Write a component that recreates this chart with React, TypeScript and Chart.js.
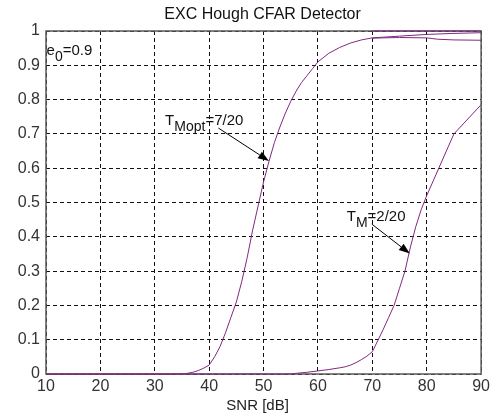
import React, { useEffect, useRef } from "react";
import { Chart, registerables } from "chart.js";

Chart.register(...registerables);

// ---- data ----
const titleText = "EXC Hough CFAR Detector";
const xLabel = "SNR [dB]";
const xTicks = [10, 20, 30, 40, 50, 60, 70, 80, 90];
const yTickLabels = ["0", "0.1", "0.2", "0.3", "0.4", "0.5", "0.6", "0.7", "0.8", "0.9", "1"];

// T_Mopt = 7/20
const snrOpt = [10, 20, 30, 35, 36, 37, 38, 39, 40, 41, 42, 43, 44, 45, 46, 47, 48, 49, 50, 51, 52, 53, 54, 55, 56, 57, 58, 59, 60, 62, 64, 66, 68, 70, 72, 75, 80, 85, 90];
const pdOpt = [0, 0, 0, 0, 0.002, 0.005, 0.01, 0.017, 0.026, 0.05, 0.08, 0.12, 0.165, 0.21, 0.27, 0.34, 0.42, 0.49, 0.56, 0.62, 0.675, 0.72, 0.76, 0.795, 0.825, 0.85, 0.87, 0.89, 0.91, 0.935, 0.952, 0.965, 0.974, 0.98, 0.982, 0.985, 0.99, 0.993, 0.995];

// T_M = 2/20
const snrM = [10, 20, 30, 40, 50, 55, 56, 58, 60, 62, 64, 65, 66, 67, 68, 69, 70, 71, 72, 73, 74, 75, 76, 77, 78, 79, 80, 85, 90];
const pdM = [0, 0, 0, 0, 0, 0, 0.002, 0.005, 0.009, 0.013, 0.018, 0.021, 0.026, 0.033, 0.042, 0.052, 0.065, 0.097, 0.13, 0.165, 0.2, 0.25, 0.3, 0.37, 0.43, 0.48, 0.52, 0.7, 0.785];

// extra high-SNR traces near Pd = 1
const snrLow = [70, 72, 75, 80, 82, 85, 90];
const pdLow = [0.979, 0.98, 0.981, 0.98, 0.976, 0.974, 0.973];
const snrTop = [70, 80, 90];
const pdTop = [1, 1, 1];

// annotations (data coordinates)
const e0Label = { x: 10.1, y: 0.93, main: "e", sub: "0", rest: "=0.9" };
const labelOpt = { x: 31.9, y: 0.726, main: "T", sub: "Mopt", rest: "=7/20" };
const labelM = { x: 65.3, y: 0.446, main: "T", sub: "M", rest: "=2/20" };
const arrowOpt = { x0: 41.7, y0: 0.717, x1: 51.0, y1: 0.621 };
const arrowM = { x0: 69.9, y0: 0.437, x1: 76.9, y1: 0.351 };

const FONT = "'Liberation Sans', Arial, sans-serif";
const LINE = "rgb(128,40,128)";

const toPts = (xs: number[], ys: number[]) => xs.map((x, i) => ({ x, y: ys[i] }));

const annotPlugin = {
  id: "annot",
  beforeDatasetsDraw(chart: any) {
    const { ctx, chartArea: a } = chart;
    ctx.save();
    ctx.strokeStyle = "#5a5a5a";
    ctx.lineWidth = 1.5;
    ctx.strokeRect(a.left, a.top, a.right - a.left, a.bottom - a.top);
    ctx.restore();
  },
  afterDatasetsDraw(chart: any) {
    const { ctx, chartArea: a, scales } = chart;
    const xs = scales.x;
    const ys = scales.y;
    ctx.save();
    ctx.fillStyle = "#111";
    ctx.textBaseline = "middle";
    ctx.textAlign = "center";
    ctx.font = `16px ${FONT}`;
    ctx.fillText(titleText, (a.left + a.right) / 2 - 1, 15);
    ctx.font = `15px ${FONT}`;
    ctx.fillStyle = "#222";
    ctx.fillText(xLabel, (a.left + a.right) / 2 - 6, 406);
    ctx.fillStyle = "#111";

    const drawSub = (l: any) => {
      let px = xs.getPixelForValue(l.x);
      const py = ys.getPixelForValue(l.y);
      ctx.textAlign = "left";
      ctx.textBaseline = "alphabetic";
      ctx.font = `15px ${FONT}`;
      ctx.fillText(l.main, px, py);
      px += ctx.measureText(l.main).width;
      ctx.font = `14px ${FONT}`;
      ctx.fillText(l.sub, px, py + 6);
      px += ctx.measureText(l.sub).width;
      ctx.font = `15px ${FONT}`;
      ctx.fillText(l.rest, px, py);
    };
    drawSub(e0Label);
    drawSub(labelOpt);
    drawSub(labelM);

    const drawArrow = (ar: any) => {
      const x0 = xs.getPixelForValue(ar.x0);
      const y0 = ys.getPixelForValue(ar.y0);
      const x1 = xs.getPixelForValue(ar.x1);
      const y1 = ys.getPixelForValue(ar.y1);
      const ang = Math.atan2(y1 - y0, x1 - x0);
      const L = 11;
      const W = 4;
      const bx = x1 - L * Math.cos(ang);
      const by = y1 - L * Math.sin(ang);
      ctx.strokeStyle = "#000";
      ctx.lineWidth = 1;
      ctx.beginPath();
      ctx.moveTo(x0, y0);
      ctx.lineTo(bx, by);
      ctx.stroke();
      ctx.fillStyle = "#000";
      ctx.beginPath();
      ctx.moveTo(x1, y1);
      ctx.lineTo(bx + W * Math.sin(ang), by - W * Math.cos(ang));
      ctx.lineTo(bx - W * Math.sin(ang), by + W * Math.cos(ang));
      ctx.closePath();
      ctx.fill();
    };
    drawArrow(arrowOpt);
    drawArrow(arrowM);
    ctx.restore();
  },
};

export default function App() {
  const ref = useRef<HTMLCanvasElement>(null);
  useEffect(() => {
    if (!ref.current) return;
    const ds = (data: any[]) => ({
      data,
      borderColor: LINE,
      borderWidth: 1,
      pointRadius: 0,
      tension: 0,
      fill: false,
      clip: 2,
    });
    const chart = new Chart(ref.current, {
      type: "line",
      data: {
        datasets: [
          { label: "T_Mopt=7/20", ...ds(toPts(snrOpt, pdOpt)) },
          { label: "T_M=2/20", ...ds(toPts(snrM, pdM)) },
          { label: "low", ...ds(toPts(snrLow, pdLow)) },
          { label: "top", ...ds(toPts(snrTop, pdTop)) },
        ],
      },
      options: {
        responsive: false,
        animation: false,
        devicePixelRatio: 1,
        layout: { padding: { top: 31, right: 10, left: 0, bottom: 0 } },
        plugins: { legend: { display: false }, tooltip: { enabled: false }, title: { display: false } },
        scales: {
          x: {
            type: "linear",
            min: 10,
            max: 90,
            afterFit: (s: any) => { s.height = 44; },
            afterBuildTicks: (s: any) => { s.ticks = xTicks.map((v) => ({ value: v })); },
            ticks: { font: { family: FONT, size: 16 }, color: "#333", padding: 3, maxRotation: 0, autoSkip: false, callback: (v: any) => String(v) },
            grid: { color: "#111", lineWidth: 1, drawTicks: false },
            border: { display: false, dash: [4, 3] },
          },
          y: {
            type: "linear",
            min: 0,
            max: 1,
            afterFit: (s: any) => { s.width = 46; },
            ticks: { stepSize: 0.1, font: { family: FONT, size: 16 }, color: "#333", padding: 6, autoSkip: false, callback: (_v: any, i: number) => yTickLabels[i] },
            grid: { color: "#111", lineWidth: 1, drawTicks: false },
            border: { display: false, dash: [4, 3] },
          },
        },
      },
      plugins: [annotPlugin],
    });
    return () => chart.destroy();
  }, []);
  return (
    <div style={{ position: "fixed", left: 0, top: 0, width: 493, height: 418, background: "#fff" }}>
      <canvas ref={ref} width={493} height={418} />
    </div>
  );
}
